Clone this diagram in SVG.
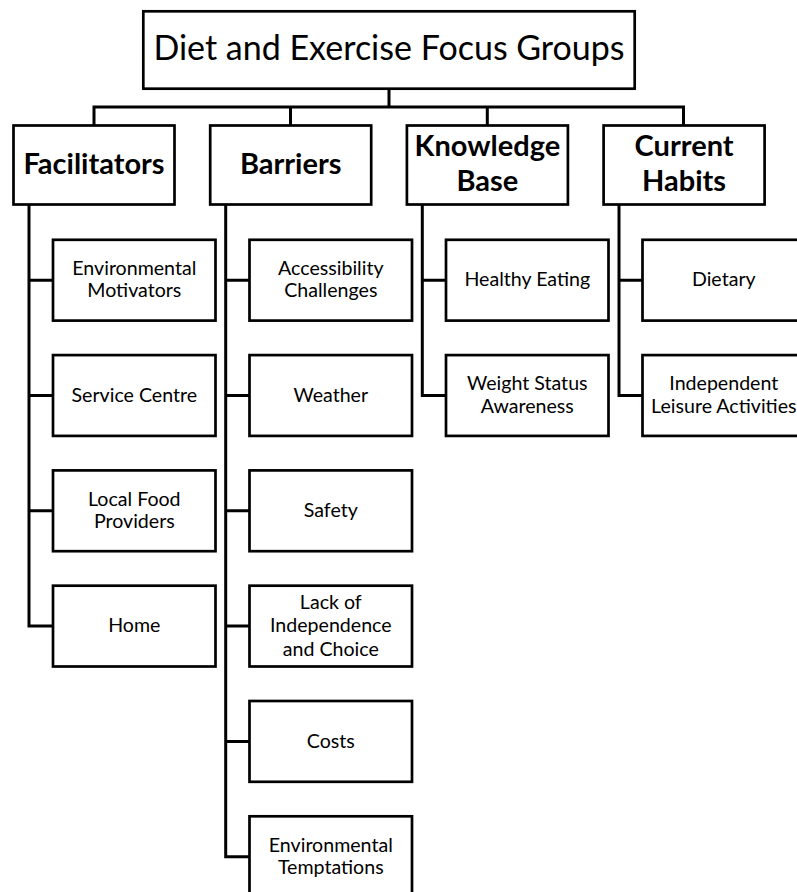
<svg xmlns="http://www.w3.org/2000/svg" width="797" height="892" viewBox="0 0 797 892">
<style>
  .box { fill: #fff; stroke: #000; stroke-width: 2.7; }
  .con { fill: none; stroke: #000; stroke-width: 3; stroke-linejoin: miter; stroke-linecap: square; }
  text { font-family: Lato, "Liberation Sans", sans-serif; fill: #000; text-anchor: middle; }
  .title { font-size: 34px; }
  .cat { font-size: 29px; font-weight: bold; }
  .child { font-size: 19.6px; }
</style>
<rect width="797" height="892" fill="#fff"/>
<g id="connectors">
  <path class="con" d="M389 90 V107 M94 107 H683.5 M94 107 V125 M290.5 107 V125 M487.3 107 V125 M683.5 107 V125"/>
  <path class="con" d="M29 205 V626.1 H53 M29 280.2 H53 M29 395.5 H53 M29 510.8 H53"/>
  <path class="con" d="M225.7 205 V856.7 H249.5 M225.7 280.2 H249.5 M225.7 395.5 H249.5 M225.7 510.8 H249.5 M225.7 626.1 H249.5 M225.7 741.4 H249.5"/>
  <path class="con" d="M422.3 205 V395.5 H446 M422.3 280.2 H446"/>
  <path class="con" d="M619 205 V395.5 H642.5 M619 280.2 H642.5"/>
</g>
<g id="root">
  <rect class="box" x="143.3" y="11.3" width="491.4" height="77.4"/>
  <text class="title" x="389" y="59.5">Diet and Exercise Focus Groups</text>
</g>
<g id="facilitators">
  <rect class="box" x="13.5" y="125.5" width="161" height="79"/>
  <text class="cat" x="94" y="174">Facilitators</text>
</g>
<g id="barriers">
  <rect class="box" x="210.2" y="125.5" width="161" height="79"/>
  <text class="cat" x="290.7" y="174">Barriers</text>
</g>
<g id="knowledge">
  <rect class="box" x="406.9" y="125.5" width="161" height="79"/>
  <text class="cat" x="487.4" y="155.5">Knowledge</text>
  <text class="cat" x="487.4" y="190.5">Base</text>
</g>
<g id="habits">
  <rect class="box" x="603.6" y="125.5" width="161" height="79"/>
  <text class="cat" x="684.1" y="155.5">Current</text>
  <text class="cat" x="684.1" y="190.5">Habits</text>
</g>
<g id="env-motivators">
  <rect class="box" x="53" y="239.8" width="162.5" height="80.8"/>
  <text class="child" x="134.3" y="275">Environmental</text>
  <text class="child" x="134.3" y="297.3">Motivators</text>
</g>
<g id="service-centre">
  <rect class="box" x="53" y="355.1" width="162.5" height="80.8"/>
  <text class="child" x="134.3" y="401.7">Service Centre</text>
</g>
<g id="local-food">
  <rect class="box" x="53" y="470.4" width="162.5" height="80.8"/>
  <text class="child" x="134.3" y="505.6">Local Food</text>
  <text class="child" x="134.3" y="527.9">Providers</text>
</g>
<g id="home">
  <rect class="box" x="53" y="585.7" width="162.5" height="80.8"/>
  <text class="child" x="134.3" y="632.3">Home</text>
</g>
<g id="accessibility">
  <rect class="box" x="249.5" y="239.8" width="162.5" height="80.8"/>
  <text class="child" x="330.8" y="275">Accessibility</text>
  <text class="child" x="330.8" y="297.3">Challenges</text>
</g>
<g id="weather">
  <rect class="box" x="249.5" y="355.1" width="162.5" height="80.8"/>
  <text class="child" x="330.8" y="401.7">Weather</text>
</g>
<g id="safety">
  <rect class="box" x="249.5" y="470.4" width="162.5" height="80.8"/>
  <text class="child" x="330.8" y="517">Safety</text>
</g>
<g id="independence">
  <rect class="box" x="249.5" y="585.7" width="162.5" height="80.8"/>
  <text class="child" x="330.8" y="609.3">Lack of</text>
  <text class="child" x="330.8" y="631.7">Independence</text>
  <text class="child" x="330.8" y="655.5">and Choice</text>
</g>
<g id="costs">
  <rect class="box" x="249.5" y="701" width="162.5" height="80.8"/>
  <text class="child" x="330.8" y="747.6">Costs</text>
</g>
<g id="env-temptations">
  <rect class="box" x="249.5" y="816.3" width="162.5" height="80.8"/>
  <text class="child" x="330.8" y="851.5">Environmental</text>
  <text class="child" x="330.8" y="873.8">Temptations</text>
</g>
<g id="healthy-eating">
  <rect class="box" x="446" y="239.8" width="162.5" height="80.8"/>
  <text class="child" x="527.3" y="286.4">Healthy Eating</text>
</g>
<g id="weight-status">
  <rect class="box" x="446" y="355.1" width="162.5" height="80.8"/>
  <text class="child" x="527.3" y="390.3">Weight Status</text>
  <text class="child" x="527.3" y="412.6">Awareness</text>
</g>
<g id="dietary">
  <rect class="box" x="642.5" y="239.8" width="162.5" height="80.8"/>
  <text class="child" x="723.8" y="286.4">Dietary</text>
</g>
<g id="leisure">
  <rect class="box" x="642.5" y="355.1" width="162.5" height="80.8"/>
  <text class="child" x="723.8" y="390.3">Independent</text>
  <text class="child" x="723.8" y="412.6">Leisure Activities</text>
</g>
</svg>
